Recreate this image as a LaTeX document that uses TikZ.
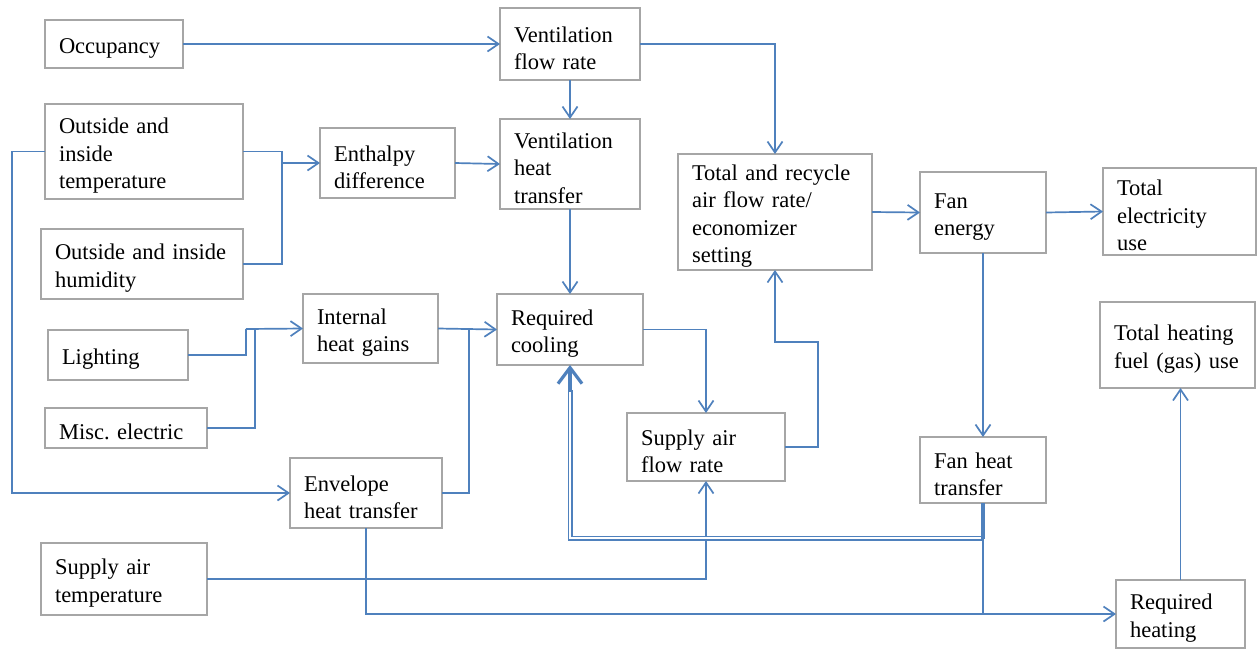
\documentclass[tikz,border=0pt]{standalone}
\usepackage{fontspec}
\setmainfont{Liberation Serif}
\usetikzlibrary{arrows.meta}
\definecolor{lblue}{RGB}{79,129,189}
\definecolor{bgray}{RGB}{166,166,166}
\begin{document}
\frenchspacing
\begin{tikzpicture}[x=1pt,y=1pt,
  box/.style={draw=bgray, line width=1.5pt, fill=white, anchor=north west, align=left,
    inner xsep=14pt, inner ysep=0pt, outer sep=0pt, font=\fontsize{22.5}{27.5}\selectfont,
    execute at begin node={\rule{0pt}{24pt}}},
  boxup/.style={box, execute at begin node={}},
  ln/.style={draw=lblue, line width=1.7pt},
  arr/.style={ln, -{Straight Barb[length=11pt,width=15pt]}},
  dbl/.style={draw=lblue, line width=1.5pt, double=white, double distance=2pt},
  thickln/.style={draw=lblue, line width=4pt},
  bigarr/.style={draw=lblue, line width=3.2pt, -{Straight Barb[length=16pt,width=24pt]}}
]
\useasboundingbox (0,0) rectangle (1257,-649);
\fill[white] (0,0) rectangle (1257,-649);

% nodes
\node[box, text width=110pt, minimum height=48pt] (occ) at (45,-20) {Occupancy};
\node[box, text width=112pt, minimum height=72pt] (vfr) at (500,-8) {Ventilation\\flow rate};
\node[box, text width=170pt, minimum height=95pt] (oit) at (45,-104) {Outside and\\inside\\temperature};
\node[box, text width=107pt, minimum height=70pt] (ent) at (320,-128) {Enthalpy\\difference};
\node[box, text width=112pt, minimum height=90pt] (vht) at (500,-119) {Ventilation\\heat\\transfer};
\node[box, text width=174pt, minimum height=70pt] (oih) at (41,-229) {Outside and inside\\humidity};
\node[box, text width=166pt, minimum height=116pt] (tra) at (678,-154) {Total and recycle\\air flow rate/\\economizer\\setting};
\node[boxup, text width=98pt, minimum height=81pt] (fan) at (920,-172) {Fan\\energy};
\node[box, text width=125pt, minimum height=87pt] (tel) at (1103,-168) {Total\\electricity\\use};
\node[box, text width=107pt, minimum height=69pt] (ihg) at (303,-294) {Internal\\heat gains};
\node[box, text width=118pt, minimum height=71pt] (rc) at (497,-294) {Required\\cooling};
\node[box, text width=112pt, minimum height=50pt] (lig) at (48,-330) {Lighting};
\node[box, text width=134pt, minimum height=40pt] (mis) at (45,-408) {Misc.\ electric};
\node[boxup, text width=127pt, minimum height=86pt] (thf) at (1100,-302) {Total heating\\fuel (gas) use};
\node[box, text width=130pt, minimum height=68pt] (saf) at (627,-413) {Supply air\\flow rate};
\node[box, text width=124pt, minimum height=70pt] (eht) at (290,-458) {Envelope\\heat transfer};
\node[box, text width=98pt, minimum height=66pt] (fht) at (920,-437) {Fan heat\\transfer};
\node[box, text width=138pt, minimum height=72pt] (sat) at (41,-543) {Supply air\\temperature};
\node[box, text width=101pt, minimum height=68pt] (rh) at (1116,-580) {Required\\heating};

% junction coordinates
\coordinate (j1) at (282,-163);
\coordinate (lx) at (12,-493);
\coordinate (j2) at (246,-329);
\coordinate (j3) at (255,-329);
\coordinate (j4) at (469,-329);
\coordinate (c2) at (818,-342);
\coordinate (d1) at (983,-538);
\coordinate (rcb) at (570,-390);

% connectors
\draw[arr] (occ.east) -- (vfr.west);
\draw[arr] (vfr.south) -- (vht.north);
\draw[arr] (vfr.east) -| (tra.north);
\draw[ln] (oit.east) -| (j1);
\draw[ln] (oih.east) -| (j1);
\draw[arr] (j1) -- (ent.west);
\draw[arr] (ent.east) -- (vht.west);
\draw[arr] (vht.south) -- (rc.north);
\draw[arr] (oit.west) -| (lx) -- (eht.west);
\draw[ln] (lig.east) -| (j2);
\draw[ln] (mis.east) -| (j3);
\draw[arr] (j2) -- (ihg.west);
\draw[arr] (ihg.east) -- (rc.west);
\draw[ln] (eht.east) -| (j4);
\draw[arr] (rc.east) -| (saf.north);
\draw[arr] (saf.east) -| (c2) -| (tra.south);
\draw[arr] (tra.east) -- (fan.west);
\draw[arr] (fan.east) -- (tel.west);
\draw[arr] (fan.south) -- (fht.north);
\draw[arr] (sat.east) -| (saf.south);
\draw[arr] (eht.south) |- (rh.west);
\draw[ln] (d1) -- (d1 |- rh.west);
\draw[arr] (rh.north) -- (rh.north |- thf.south);
\draw[dbl] (d1) -| (rcb);
\draw[thickln] (fht.south) -- ([yshift=-1pt]d1);
\draw[bigarr] ([yshift=-2pt]rcb) -- (rc.south);
\end{tikzpicture}
\end{document}
